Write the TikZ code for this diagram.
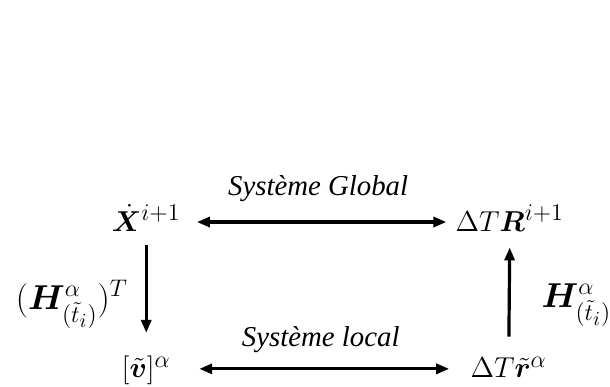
\documentclass[tikz,border=0pt]{standalone}
\usepackage[no-math]{fontspec}
\setmainfont{Liberation Serif}
\usepackage{amsmath,bm}
\DeclareMathSizes{14.4}{14.4}{12}{9}
\usetikzlibrary{arrows.meta}

\begin{document}
\begin{tikzpicture}[
    >={Triangle[length=6.5pt,width=5pt]},
    % Define styles locally
    flow/.style={line width=1.6pt},
    mathNode/.style={font=\Large, inner sep=0pt, anchor=base},
    mapLabel/.style={font=\LARGE},
    sysLabel/.style={font=\Large\itshape}
]
    \useasboundingbox (0,0) rectangle (10.72,6.80);

    % --- TOP ROW: GLOBAL SYSTEM ---
    \node[mathNode] (xDot) at (2.57,2.74) {$\dot{\bm{X}}^{i+1}$};
    \node[mathNode] (rGlob) at (8.96,2.74) {$\Delta T\bm{R}^{i+1}$};

    % --- BOTTOM ROW: LOCAL SYSTEM ---
    \node[mathNode] (vLoc) at (2.57,0.16) {$[\tilde{\bm{v}}]^{\alpha}$};
    \node[mathNode] (rLoc) at (8.94,0.16) {$\Delta T\tilde{\bm{r}}^{\alpha}$};

    % --- HORIZONTAL ARROWS ---
    \draw[flow, <->, shorten <=8pt, shorten >=4.5pt] ([yshift=4.5pt]xDot.base east) -- ([yshift=4.5pt]rGlob.base west)
        node[sysLabel, midway, above=6pt] (labelGlob) {Système Global};
    \draw[flow, <->, shorten <=14pt, shorten >=10.5pt] ([yshift=4.5pt]vLoc.base east) -- ([yshift=4.5pt]rLoc.base west)
        node[sysLabel, midway, above=4pt] (labelLoc) {Système local};

    % --- VERTICAL ARROWS ---
    \draw[flow, ->, shorten <=7pt, shorten >=11.5pt] (xDot.south) -- (vLoc.north)
        node[mapLabel, midway, left=5pt, yshift=-5.5pt] (labelHT) {$(\bm{H}^{\alpha}_{(\tilde{t}_i)})^T$};
    \draw[flow, ->, shorten <=10pt, shorten >=8pt] (rLoc.north) -- (rGlob.south)
        node[mapLabel, midway, right=12pt, yshift=-5.5pt] (labelH) {$\bm{H}^{\alpha}_{(\tilde{t}_i)}$};

\end{tikzpicture}
\end{document}
